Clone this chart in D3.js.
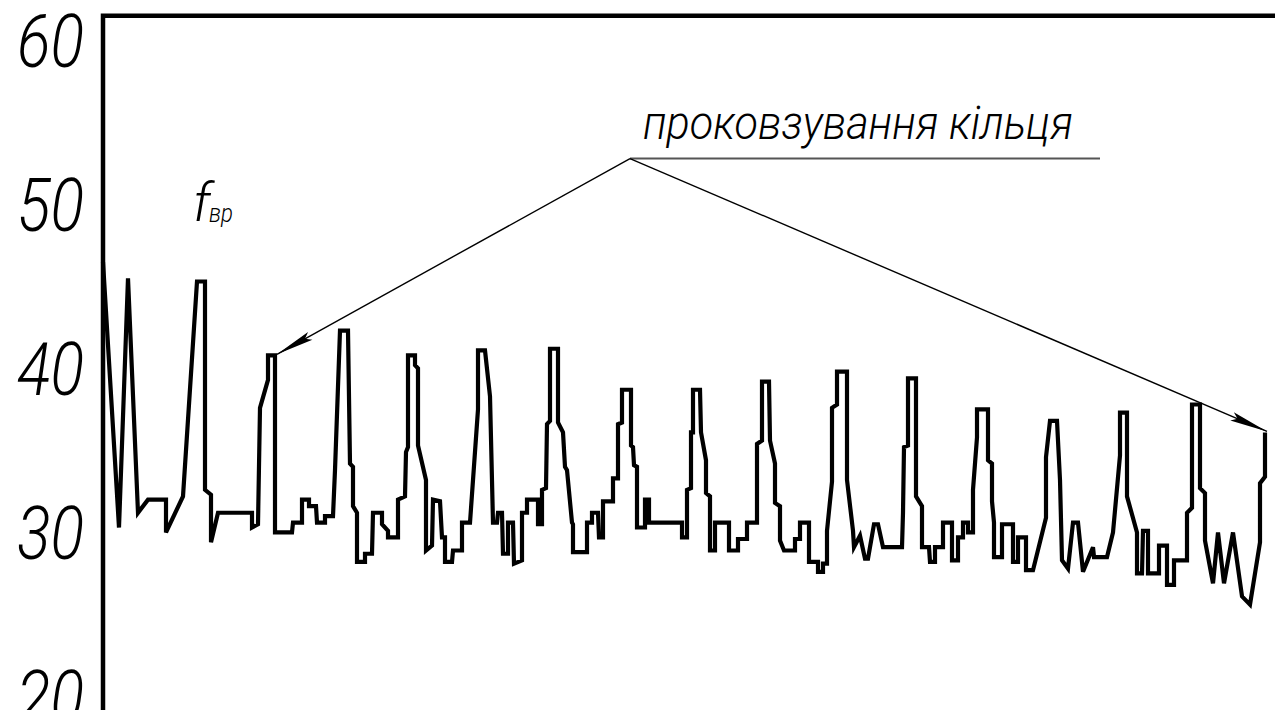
<!DOCTYPE html>
<html>
<head>
<meta charset="utf-8">
<script src="https://cdn.jsdelivr.net/npm/d3@7"></script>
<style>
  html, body { margin: 0; padding: 0; background: #fff; }
  svg { display: block; }
  .lbl { font-family: Roboto, "DejaVu Sans", sans-serif; font-style: italic; font-weight: 300; fill: #000; }
</style>
</head>
<body>
<div id="chart"></div>
<script>
// trace of f_вр : [t, value]; t is the horizontal position (no units on the drawing)
var trace = [
	[0,46.4],[16,30.2],[25,45.4],[35,31.1],[45,31.9],[63,31.9],[63,29.9],[80,32.1],[94,45.2],[102,45.2],
	[102,32.5],[108,32.2],[108,29.3],[115,31.1],[149,31.1],[149,30.2],[155,30.4],[157,37.5],[165,39.2],[165,40.7],
	[172,40.7],[172,29.9],[189,29.9],[190,30.5],[199,30.5],[199,31.9],[206,31.9],[206,31.5],[213,31.5],[214,30.5],
	[222,30.5],[222,30.9],[230,30.9],[232,33.7],[237,42.2],[245,42.2],[247,34.1],[250,33.9],[250,31.5],[254,31.1],
	[254,28.1],[262,28.1],[262,28.6],[269,28.6],[270,31.1],[279,31.1],[279,30.4],[285,30.0],[285,29.6],[295,29.6],
	[295,31.9],[302,32.1],[303,34.8],[305,35.1],[305,40.7],[312,40.7],[312,40.1],[315,39.9],[315,35.2],[323,33.1],
	[323,28.8],[329,29.1],[330,31.9],[337,31.8],[339,29.6],[342,29.6],[342,28.1],[349,28.1],[350,28.8],[359,28.8],
	[359,30.5],[367,30.5],[375,37.4],[375,41.0],[382,41.0],[387,38.2],[390,30.5],[394,30.5],[395,31.1],[399,31.1],
	[400,28.6],[405,28.6],[405,30.5],[410,30.5],[411,28.0],[419,28.2],[419,31.1],[424,31.1],[424,31.9],[435,31.9],
	[435,30.4],[439,30.4],[439,32.5],[443,32.6],[444,36.5],[447,36.7],[447,41.1],[455,41.1],[455,36.6],[460,36.0],
	[462,33.9],[464,33.7],[469,30.5],[470,30.4],[470,28.7],[484,28.7],[484,30.5],[489,30.5],[489,31.1],[495,31.1],
	[496,29.6],[500,29.6],[500,31.8],[510,31.8],[510,33.2],[515,33.2],[515,36.5],[519,36.6],[519,38.6],[528,38.6],
	[528,35.2],[530,35.1],[531,34.0],[534,33.9],[534,30.2],[542,30.2],[542,31.9],[546,31.9],[546,30.5],[579,30.5],
	[579,29.6],[584,29.6],[584,32.5],[588,32.6],[588,36.0],[590,36.0],[590,38.6],[597,38.6],[598,36.0],[603,34.3],
	[603,32.3],[607,32.1],[607,28.8],[612,28.8],[612,30.5],[626,30.5],[626,28.8],[635,28.8],[635,29.5],[644,29.5],
	[644,30.5],[654,30.5],[654,35.3],[659,35.5],[659,39.1],[666,39.1],[667,35.5],[672,34.1],[672,31.7],[677,31.5],
	[677,29.4],[681,28.8],[692,28.8],[692,29.5],[697,29.5],[697,30.5],[706,30.5],[706,28.1],[715,28.1],[715,27.5],
	[720,27.5],[720,28.0],[724,28.0],[724,30.0],[729,33.0],[729,37.5],[734,37.7],[734,39.7],[744,39.7],[744,33.1],
	[750,30.0],[751,29.0],[757,29.7],[762,28.3],[765,28.3],[771,30.4],[775,30.4],[780,29.0],[799,29.0],[800,31.1],
	[801,35.1],[805,35.2],[805,39.3],[813,39.3],[813,32.1],[819,31.5],[819,29.0],[826,29.0],[827,28.1],[832,28.1],
	[832,29.0],[840,29.0],[840,30.5],[849,30.5],[849,28.2],[855,28.2],[855,29.6],[860,29.6],[860,30.5],[865,30.5],
	[865,29.9],[870,29.9],[870,32.5],[874,35.7],[874,37.4],[885,37.4],[885,34.3],[889,34.1],[889,31.8],[891,30.5],
	[891,28.4],[899,28.4],[899,30.4],[910,30.4],[910,28.1],[915,28.1],[915,29.6],[923,29.6],[923,27.6],[930,27.6],
	[943,30.8],[943,34.5],[947,36.7],[954,36.7],[957,33.1],[959,28.2],[965,27.7],[970,30.5],[975,30.5],[980,27.5],
	[990,29.0],[991,28.4],[1004,28.4],[1010,29.9],[1017,34.6],[1017,37.2],[1024,37.2],[1024,32.1],[1034,29.9],[1034,27.4],
	[1039,27.4],[1040,30.0],[1045,30.0],[1045,27.4],[1056,27.4],[1056,29.1],[1064,29.1],[1064,26.7],[1071,26.7],[1071,28.2],
	[1084,28.2],[1084,31.1],[1089,31.4],[1089,37.7],[1097,37.7],[1097,32.6],[1102,32.3],[1102,29.4],[1110,26.8],[1115,29.9],
	[1121,26.8],[1130,29.9],[1139,26.0],[1147,25.5],[1157,29.3],[1157,32.9],[1162,33.3],[1162,36.0]
];

var yTicks = [20, 30, 40, 50, 60];

// leader note: anchor [t, value], shelf end t, and which trace points the arrows hit
var noteText = "проковзування кільця";
var noteAnchor = [527, 52.7];
var noteShelfEnd = 997;
var noteTargets = [20, trace.length - 1];

var seriesName = "f";
var seriesSub = "вр";
var seriesPos = [90, 48.9];

var width = 1275, height = 710;

var xScale = d3.scaleLinear().domain([0, 1172]).range([103, 1275]);
var yScale = d3.scaleLinear().domain([20, 60]).range([694.8, 38.8]);

var svg = d3.select("#chart")
	.append("svg")
		.attr("width", width)
		.attr("height", height);

// arrow head
svg.append("defs")
	.append("marker")
		.attr("id", "arr")
		.attr("viewBox", "-40 -6 42 12")
		.attr("refX", 0)
		.attr("refY", 0)
		.attr("markerWidth", 42)
		.attr("markerHeight", 12)
		.attr("markerUnits", "userSpaceOnUse")
		.attr("orient", "auto")
	.append("path")
		.attr("d", "M0,0 L-38,-4.5 L-32,0 L-38,4.5 Z")
		.attr("fill", "#000");

// frame: left axis + top edge
svg.append("path")
	.attr("d", d3.line()([
		[xScale(0), yScale(18.5)],
		[xScale(0), yScale(61.4)],
		[xScale(1172), yScale(61.4)]
	]))
	.attr("fill", "none")
	.attr("stroke", "#000")
	.attr("stroke-width", 4.5);

// y axis labels
var yAxis = d3.axisLeft(yScale).tickValues(yTicks).tickSize(0).tickPadding(19);
var gy = svg.append("g")
	.attr("transform", "translate(" + xScale(0) + ",0)")
	.call(yAxis);
gy.select(".domain").remove();
gy.selectAll("text")
	.attr("class", "lbl")
	.attr("font-size", 74)
	.attr("dy", "0.37em")
	.attr("textLength", 67)
	.attr("lengthAdjust", "spacingAndGlyphs");

// the trace
svg.append("path")
	.datum(trace)
	.attr("fill", "none")
	.attr("stroke", "#000")
	.attr("stroke-width", 4.2)
	.attr("stroke-linejoin", "miter")
	.attr("d", d3.line()
		.x(d => xScale(d[0]))
		.y(d => yScale(d[1]))
	);

// series label f_вр
svg.append("text")
	.attr("class", "lbl")
	.attr("x", xScale(seriesPos[0]))
	.attr("y", yScale(seriesPos[1]))
	.attr("font-size", 54)
	.text(seriesName);
svg.append("text")
	.attr("class", "lbl")
	.attr("x", xScale(seriesPos[0]) + 16)
	.attr("y", yScale(seriesPos[1]) + 1)
	.attr("font-size", 26)
	.attr("textLength", 24)
	.attr("lengthAdjust", "spacingAndGlyphs")
	.text(seriesSub);

// note: shelf line, text, leaders with arrows
var ax = xScale(noteAnchor[0]), ay = yScale(noteAnchor[1]);
svg.append("line")
	.attr("x1", ax).attr("y1", ay)
	.attr("x2", xScale(noteShelfEnd)).attr("y2", ay)
	.attr("stroke", "#555")
	.attr("stroke-width", 2);
svg.append("text")
	.attr("class", "lbl")
	.attr("x", ax + 13)
	.attr("y", ay - 20)
	.attr("font-size", 47)
	.attr("textLength", 430)
	.attr("lengthAdjust", "spacingAndGlyphs")
	.text(noteText);
noteTargets.forEach(function(i) {
	var p = trace[i];
	svg.append("line")
		.attr("x1", ax).attr("y1", ay)
		.attr("x2", xScale(p[0]) + 2).attr("y2", yScale(p[1]) - 1)
		.attr("stroke", "#000")
		.attr("stroke-width", 1.4)
		.attr("marker-end", "url(#arr)");
});
</script>
</body>
</html>
